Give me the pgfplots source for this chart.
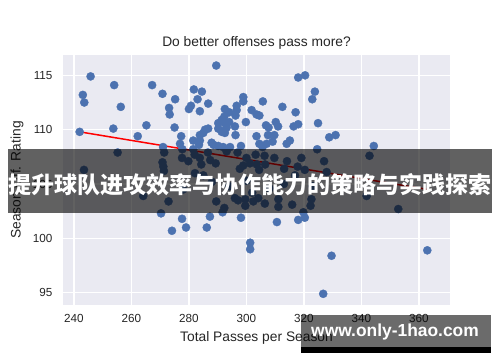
\documentclass[border=0pt]{standalone}
\usepackage{pgfplots}
\pgfplotsset{compat=1.18}
\usepackage{pgfplotstable}
\usepackage{fontspec}
\setmainfont{Liberation Sans}
\newfontfamily\cjk{Noto Sans CJK SC}
\definecolor{sbbg}{HTML}{EAEAF2}
\definecolor{sbblue}{HTML}{4C72B0}
\definecolor{sbtext}{HTML}{262626}
\pgfplotstableread{
x y
289.5 115.9
245.8 114.9
243.1 113.2
243.6 112.5
254.0 114.1
256.3 112.1
253.7 110.1
242.0 109.8
262.2 109.4
265.2 110.4
267.2 114.1
270.8 113.3
275.2 112.8
273.1 112.0
273.3 111.4
275.0 110.2
277.3 109.4
276.9 108.7
271.0 108.4
281.7 113.7
284.5 113.5
283.0 112.8
286.7 112.4
280.7 112.2
280.0 111.9
283.8 111.7
292.5 111.9
294.0 111.6
296.6 112.2
296.6 111.8
296.2 111.3
298.9 113.0
298.9 112.6
305.7 112.6
312.5 112.1
292.3 111.2
291.4 110.9
290.2 110.6
292.5 110.6
294.0 110.7
301.8 111.8
303.5 111.4
304.5 111.3
299.8 110.7
306.8 110.4
307.7 110.2
310.2 110.7
311.0 110.3
285.6 110.0
286.7 110.1
283.8 109.5
285.0 109.7
281.5 109.0
290.2 110.1
291.4 109.8
292.3 109.9
293.1 110.2
292.5 109.7
296.0 110.3
296.2 109.5
303.5 109.4
307.5 109.5
309.7 109.5
309.1 108.9
287.9 108.8
288.6 108.6
290.2 108.5
291.9 108.4
294.3 108.4
298.1 108.5
283.8 109.0
283.5 108.6
304.5 108.7
305.6 108.4
307.0 108.7
314.0 108.7
315.1 109.0
281.5 108.2
318.0 114.8
320.4 115.0
323.8 113.5
322.9 112.8
317.1 111.6
324.9 110.6
316.4 110.3
318.0 110.5
328.8 109.3
331.0 109.5
344.3 108.5
324.6 108.2
271.4 107.9
255.2 107.9
270.8 107.0
271.1 106.6
271.3 106.2
243.5 106.3
277.7 108.2
277.6 107.4
279.8 107.1
282.0 107.7
283.8 107.4
284.3 106.8
286.6 107.9
287.4 107.2
289.3 106.9
293.1 108.0
296.9 107.9
297.7 106.4
298.9 106.7
300.0 107.4
301.2 106.9
303.2 107.7
303.6 106.8
304.4 106.3
306.3 107.6
306.5 106.8
309.7 107.4
314.1 107.1
313.1 106.4
317.8 106.6
319.1 107.4
320.3 106.3
327.0 107.1
327.9 106.1
342.8 107.6
316.9 105.8
282.1 106.0
285.0 105.8
264.1 103.9
272.9 103.4
270.3 102.3
289.5 103.4
291.7 102.4
292.3 102.8
296.0 103.7
297.1 103.5
299.6 103.0
299.6 103.6
302.4 103.4
304.1 103.7
306.4 103.2
311.1 102.9
311.1 103.6
315.9 103.1
319.8 102.4
322.3 103.0
322.6 103.6
341.8 103.9
352.8 102.7
288.0 105.2
294.0 104.8
300.0 105.3
308.0 104.6
313.0 105.0
323.0 104.8
278.0 104.5
302.0 104.2
274.1 100.7
277.6 101.8
279.0 101.0
286.2 101.0
287.3 102.0
298.1 101.9
301.3 99.6
301.3 99.0
310.6 101.5
318.0 101.7
320.3 101.9
329.6 98.4
326.7 94.9
362.9 98.9
}\pts
\begin{document}
\begin{tikzpicture}[x=1pt,y=1pt]
\path[use as bounding box, fill=white] (0,0) rectangle (500,362);
\begin{axis}[
  at={(63pt,57pt)}, anchor=south west, scale only axis,
  width=387pt, height=250pt,
  xmin=236.2, xmax=370.8, ymin=93.87, ymax=116.87,
  axis background/.style={fill=sbbg},
  axis line style={draw=none},
  grid=major, major grid style={white, line width=1.3pt},
  tick style={draw=none},
  xtick={240,260,...,360}, ytick={95,100,...,115},
  /pgf/number format/assume math mode=true,
  ticklabel style={font=\fontsize{11.7}{13}\selectfont, text=sbtext},
  xticklabel style={yshift=-6pt},
  yticklabel style={xshift=-7pt},
]
\addplot[only marks, mark=*, color=sbblue, mark size=4.1pt, mark options={fill=sbblue, draw=sbblue, line width=0.3pt}] table[x=x,y=y] {\pts};
\addplot[red, line width=1.5pt] coordinates {(242,109.8) (363,104.5)};
\end{axis}
\node[font=\fontsize{13.8}{15}\selectfont, text=sbtext] at (256.5,319.5) {Do better offenses pass more?};
\node[font=\fontsize{13.8}{15}\selectfont, text=sbtext] at (256.5,24) {Total Passes per Season};
\node[font=\fontsize{13.8}{15}\selectfont, text=sbtext, rotate=90] at (17,182) {Season Off. Rating};
\fill[black, opacity=0.62] (8,149) rectangle (492,213);
\node[text=white, font=\cjk\bfseries\fontsize{23}{23}\selectfont, inner sep=0pt] at (250,177) {提升球队进攻效率与协作能力的策略与实践探索};
\fill[black, opacity=0.58] (301,15) rectangle (491,47);
\fill[black] (301,9) rectangle (491,15);
\node[text=white, font=\bfseries\fontsize{17.4}{18}\selectfont, inner sep=0pt] at (395,30) {www.only-1hao.com};
\end{tikzpicture}
\end{document}
